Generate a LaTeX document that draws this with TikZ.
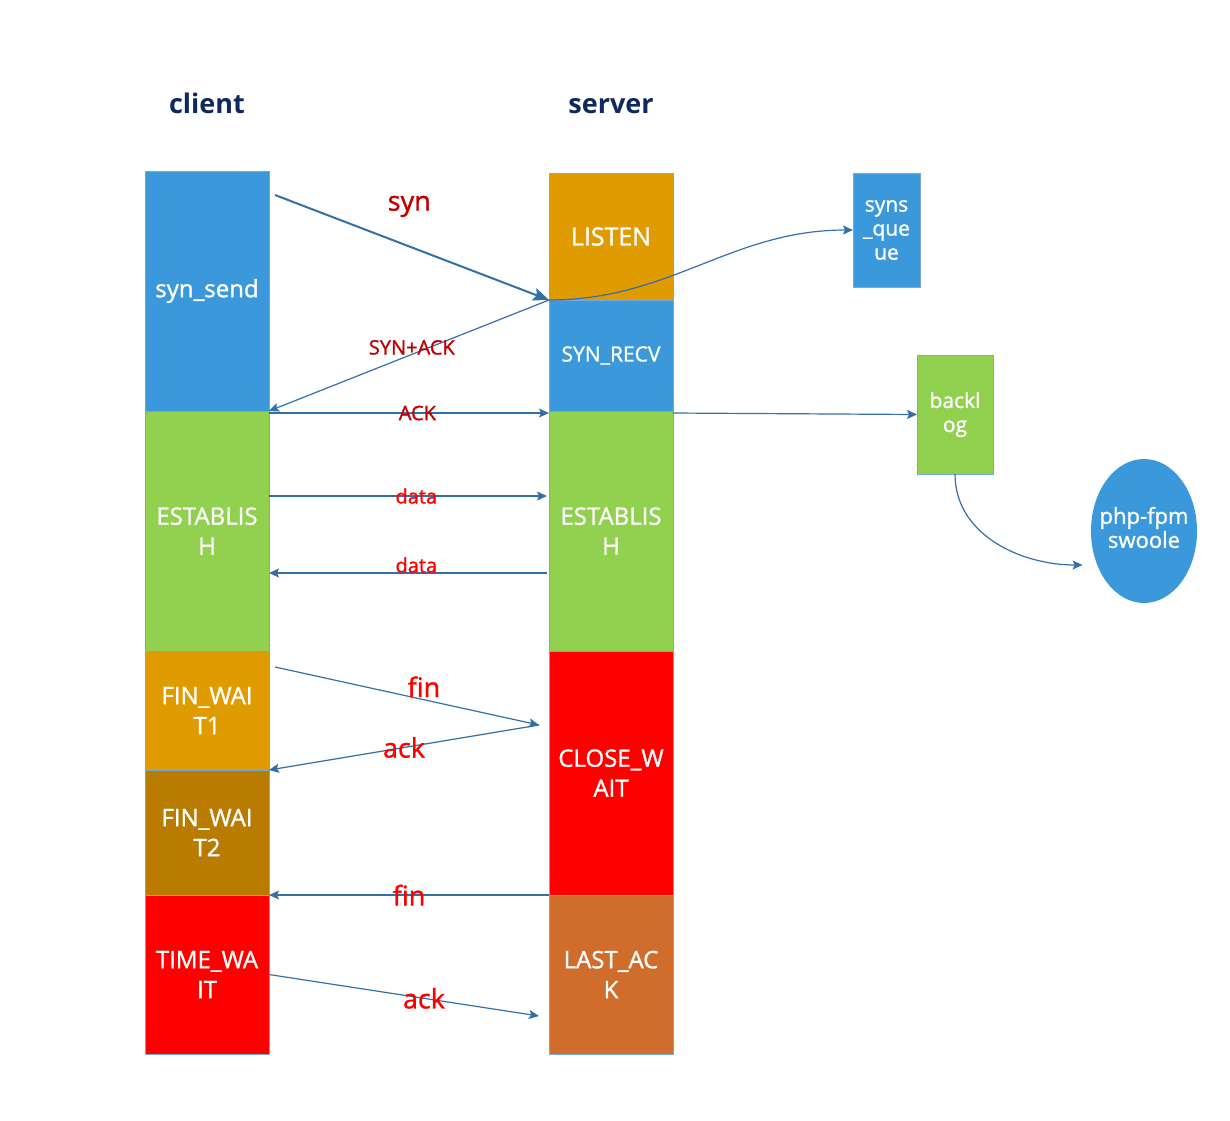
\documentclass[tikz,border=0pt]{standalone}
\usepackage{fontspec}
\setmainfont{Open Sans}
\newfontfamily\medfont{Open Sans}[FakeBold=1.2]
\usetikzlibrary{positioning,arrows.meta,calc,shapes.geometric}

\definecolor{stblue}{HTML}{3A98DB}
\definecolor{stgreen}{HTML}{92D050}
\definecolor{storange}{HTML}{E09B00}
\definecolor{stgold}{HTML}{B97C00}
\definecolor{stred}{HTML}{FF0000}
\definecolor{stbrown}{HTML}{D06C2C}
\definecolor{stedge}{HTML}{74A9D8}
\definecolor{msgline}{HTML}{3470A8}
\definecolor{synred}{HTML}{C00000}
\definecolor{headblue}{HTML}{10295C}

\begin{document}
\begin{tikzpicture}[x=0.5pt,y=-0.5pt]
  \tikzset{
    state/.style={rectangle, draw=stedge, line width=0.5pt, text=white, align=center,
      minimum width=62pt, inner sep=1pt, outer sep=0pt, font=\medfont\fontsize{12}{15}\selectfont},
    smallstate/.style={state, font=\medfont\fontsize{10.5}{12}\selectfont},
    msg/.style={draw=msgline, line width=0.6pt, -{Stealth[length=5pt,width=4.5pt,inset=1pt]}},
    lbl/.style={font=\medfont\fontsize{13.5}{15}\selectfont, text=stred, inner sep=0pt},
    smalllbl/.style={lbl, font=\medfont\fontsize{10}{12}\selectfont},
    head/.style={font=\fontsize{13.5}{16}\bfseries\selectfont, text=headblue, anchor=base}
  }
  \useasboundingbox (0,0) rectangle (1230,1120);

  \node[head] (client) at (207,113) {client};
  \node[head] (server) at (611,113) {server};

  % client side
  \node[state, fill=stblue, minimum height=120pt, anchor=north] (synsend) at (207,171) {syn\_send};
  \node[state, fill=stgreen, minimum height=120pt, below=0pt of synsend] (cest) {ESTABLIS\\H};
  \node[state, fill=storange, minimum height=59.5pt, below=0pt of cest] (finw1) {FIN\_WAI\\T1};
  \node[state, fill=stgold, minimum height=62.5pt, below=0pt of finw1] (finw2) {FIN\_WAI\\T2};
  \node[state, fill=stred, minimum height=79.5pt, below=0pt of finw2] (timew) {TIME\_WA\\IT};

  % server side
  \node[state, fill=storange, minimum height=63.5pt, anchor=north, font=\medfont\fontsize{12.5}{15}\selectfont] (listen) at (611,173) {LISTEN};
  \node[smallstate, fill=stblue, minimum height=55.5pt, below=0pt of listen] (synrecv) {SYN\_RECV};
  \node[state, fill=stgreen, minimum height=120pt, below=0pt of synrecv] (sest) {ESTABLIS\\H};
  \node[state, fill=stred, minimum height=122pt, below=0pt of sest] (closew) {CLOSE\_W\\AIT};
  \node[state, fill=stbrown, minimum height=79.5pt, below=0pt of closew] (lastack) {LAST\_AC\\K};

  % queues
  \node[smallstate, fill=stblue, minimum width=33.5pt, minimum height=57pt] (synq) at (886.5,230) {syns\\\_que\\ue};
  \node[smallstate, fill=stgreen, minimum width=38pt, minimum height=59.5pt] (backlog) at (955,414.5) {backl\\og};
  \node[ellipse, fill=stblue, text=white, minimum width=53pt, minimum height=72pt,
    inner sep=0pt, font=\medfont\fontsize{11}{12}\selectfont] (php) at (1144,531)
    {\makebox[0pt]{\begin{tabular}{@{}c@{}}php-fpm\\swoole\end{tabular}}};

  \coordinate (synfrom) at ($(synsend.north east)+(6,24)$);
  \coordinate (finfrom) at ($(finw1.north east)+(6,16)$);
  \coordinate (finto) at ($(closew.west)+(-10,-48)$);
  \coordinate (ackto) at ($(lastack.west)+(-10,41.5)$);
  \coordinate (phpin) at ($(php.west)+(-8,34)$);

  % handshake
  \draw[msg, line width=1pt, -{Stealth[length=8pt,width=6.5pt,inset=1.5pt]}] (synfrom) -- (listen.south west)
    node[lbl, text=synred, pos=.49, yshift=20pt] (lsyn) {syn};
  \draw[msg] (listen.south west) -- (synsend.south east)
    node[smalllbl, text=synred, pos=.49, yshift=3.5pt] (lsynack) {SYN+ACK};
  \draw[msg] ($(cest.north east)+(0,2)$) -- ($(sest.north west)+(0,2)$)
    node[smalllbl, text=synred, pos=.53] (lack) {ACK};

  % data
  \draw[msg] ($(cest.east)+(0,-35)$) -- ($(sest.west)+(-2,-35)$)
    node[smalllbl, pos=.53] (ldata1) {data};
  \draw[msg] ($(sest.west)+(-2,42)$) -- ($(cest.east)+(0,42)$)
    node[smalllbl, pos=.47, yshift=4pt] (ldata2) {data};

  % close
  \draw[msg] (finfrom) -- (finto) node[lbl, pos=.564, yshift=6.5pt] (lfin1) {fin};
  \draw[msg] (finto) -- (finw1.south east) node[lbl, pos=.5] (lack1) {ack};
  \draw[msg] (closew.south west) -- (finw2.south east) node[lbl, pos=.5] (lfin2) {fin};
  \draw[msg] (timew.east) -- (ackto) node[lbl, pos=.574] (lack2) {ack};

  % queues
  \draw[msg] (listen.south west) to[out=0, in=180] (synq.west);
  \draw[msg] ($(sest.north east)+(0,2)$) -- (backlog.west);
  \draw[msg] (backlog.south) to[out=-90, in=180] (phpin);
\end{tikzpicture}
\end{document}
